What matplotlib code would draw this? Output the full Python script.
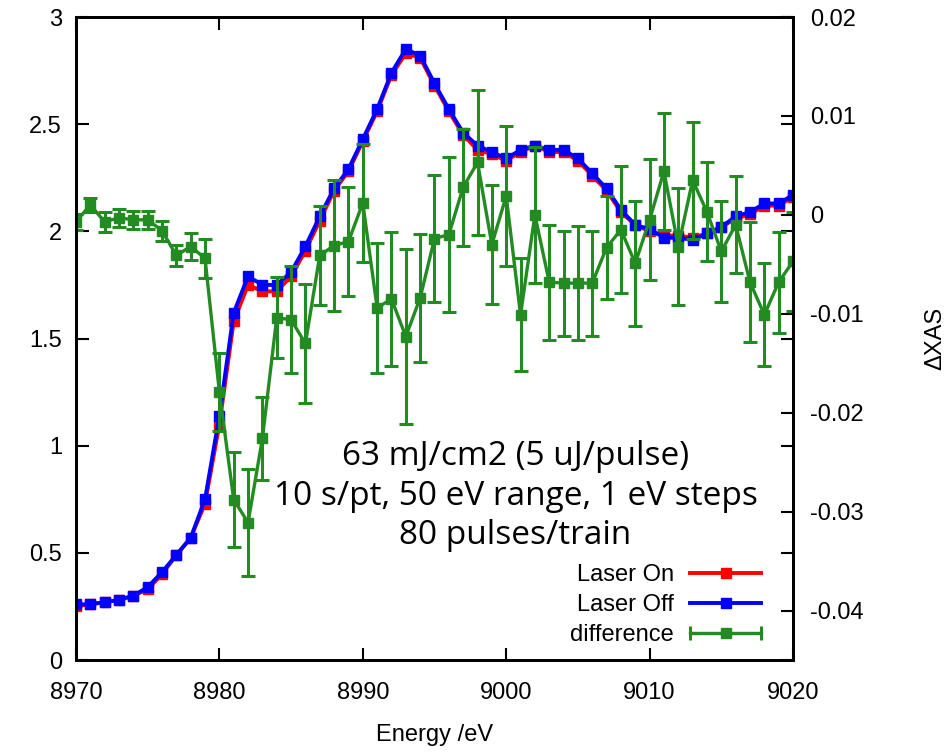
import numpy as np
import matplotlib
matplotlib.use("Agg")
import matplotlib.pyplot as plt
from matplotlib.ticker import FuncFormatter, MultipleLocator
from matplotlib.container import ErrorbarContainer
from matplotlib.legend_handler import HandlerErrorbar

plt.rcParams['font.family'] = ['Liberation Sans', 'DejaVu Sans']

# energy grid, 1 eV steps
energy = list(range(8970, 9021))

laser_off = [0.26, 0.26, 0.27, 0.28, 0.30, 0.34, 0.41, 0.49, 0.57, 0.75,
             1.14, 1.62, 1.79, 1.75, 1.75, 1.81, 1.93, 2.07, 2.20, 2.29,
             2.43, 2.57, 2.74, 2.85, 2.82, 2.69, 2.57, 2.46, 2.40, 2.37,
             2.34, 2.38, 2.40, 2.38, 2.38, 2.34, 2.27, 2.20, 2.10, 2.03,
             2.01, 1.97, 1.97, 1.96, 1.99, 2.02, 2.07, 2.09, 2.13, 2.13,
             2.17]

laser_on = [0.25, 0.26, 0.27, 0.28, 0.30, 0.33, 0.40, 0.49, 0.57, 0.73,
            1.10, 1.58, 1.75, 1.72, 1.72, 1.79, 1.91, 2.05, 2.19, 2.28,
            2.42, 2.56, 2.73, 2.83, 2.81, 2.68, 2.56, 2.45, 2.38, 2.36,
            2.33, 2.37, 2.40, 2.37, 2.37, 2.33, 2.26, 2.19, 2.09, 2.03,
            2.00, 1.98, 1.98, 1.97, 1.99, 2.02, 2.06, 2.08, 2.12, 2.12,
            2.16]

difference = [-0.0007, 0.0010, -0.0007, -0.0003, -0.0005, -0.0005, -0.0016, -0.0041, -0.0032, -0.0044,
              -0.0179, -0.0288, -0.0311, -0.0226, -0.0104, -0.0106, -0.0130, -0.0041, -0.0031, -0.0027,
              0.0012, -0.0094, -0.0085, -0.0123, -0.0084, -0.0024, -0.0020, 0.0028, 0.0053, -0.0030,
              0.0019, -0.0101, 0.0000, -0.0068, -0.0069, -0.0069, -0.0069, -0.0033, -0.0015, -0.0049,
              -0.0005, 0.0044, -0.0032, 0.0035, 0.0003, -0.0037, -0.0010, -0.0068, -0.0101, -0.0068,
              -0.0047]

diff_err = [0.0008, 0.0007, 0.0010, 0.0009, 0.0009, 0.0009, 0.0010, 0.0011, 0.0014, 0.0020,
            0.0039, 0.0048, 0.0054, 0.0042, 0.0041, 0.0054, 0.0060, 0.0050, 0.0066, 0.0055,
            0.0060, 0.0066, 0.0068, 0.0088, 0.0065, 0.0064, 0.0078, 0.0059, 0.0073, 0.0060,
            0.0071, 0.0057, 0.0069, 0.0058, 0.0053, 0.0058, 0.0053, 0.0052, 0.0064, 0.0063,
            0.0061, 0.0059, 0.0059, 0.0059, 0.0050, 0.0051, 0.0049, 0.0061, 0.0052, 0.0051,
            0.0050]

notes = "63 mJ/cm2 (5 uJ/pulse)\n10 s/pt, 50 eV range, 1 eV steps\n80 pulses/train"

green = "#228b22"

fig = plt.figure(figsize=(9.52, 7.53), dpi=100)
ax = fig.add_axes([0.0798, 0.1235, 0.7532, 0.8539])
ax2 = ax.twinx()

l_on, = ax.plot(energy, laser_on, color="#ff0000", lw=2.8, marker="s", ms=7.5,
                label="Laser On")
l_off, = ax.plot(energy, laser_off, color="#0000ff", lw=2.8, marker="s", ms=7.5,
                 label="Laser Off")
ax2.errorbar(energy, difference, yerr=diff_err, color=green, lw=2.4,
             marker="s", ms=7, capsize=5, capthick=2.2, elinewidth=2.2)
# legend proxy in gnuplot style (horizontal bar with end caps), not drawn
eb_key = ax2.errorbar([np.nan], [np.nan], xerr=[1], color=green, lw=2.4,
                      marker="s", ms=7, capsize=5, capthick=2.2, elinewidth=2.2)

ax.set_xlim(8970, 9020)
ax.set_ylim(0, 3)
ax2.set_ylim(-0.045, 0.02)
ax.xaxis.set_major_locator(MultipleLocator(10))
ax.yaxis.set_major_locator(MultipleLocator(0.5))
ax2.yaxis.set_major_locator(MultipleLocator(0.01))
ax.yaxis.set_major_formatter(FuncFormatter(lambda v, p: f"{v:g}"))
ax2.yaxis.set_major_formatter(FuncFormatter(lambda v, p: f"{round(v, 3):g}"))

ax.tick_params(direction="in", top=True, right=True, length=9, width=1.5,
               labelsize=17, pad=10)
ax.tick_params(axis="x", pad=16)
ax2.tick_params(direction="in", length=9, width=1.5, labelsize=17, pad=12)
for a in (ax, ax2):
    for s in a.spines.values():
        s.set_linewidth(2)

ax.set_xlabel("Energy /eV", fontsize=17, labelpad=14)
ax2.set_ylabel("ΔXAS", fontsize=17, labelpad=44)

ax2.text(0.613, 0.255, notes, transform=ax.transAxes, ha="center", va="center",
         fontsize=24, family=["Open Sans", "DejaVu Sans"], linespacing=1.25)

ax2.legend([l_on, l_off, eb_key], ["Laser On", "Laser Off", "difference"],
           loc="lower right", bbox_to_anchor=(0.985, -0.012), frameon=False,
           markerfirst=False, fontsize=17, handlelength=3.0,
           labelspacing=0.35, handletextpad=0.7,
           handler_map={ErrorbarContainer: HandlerErrorbar(xerr_size=1.5)})

fig.savefig("out.png", dpi=100)
